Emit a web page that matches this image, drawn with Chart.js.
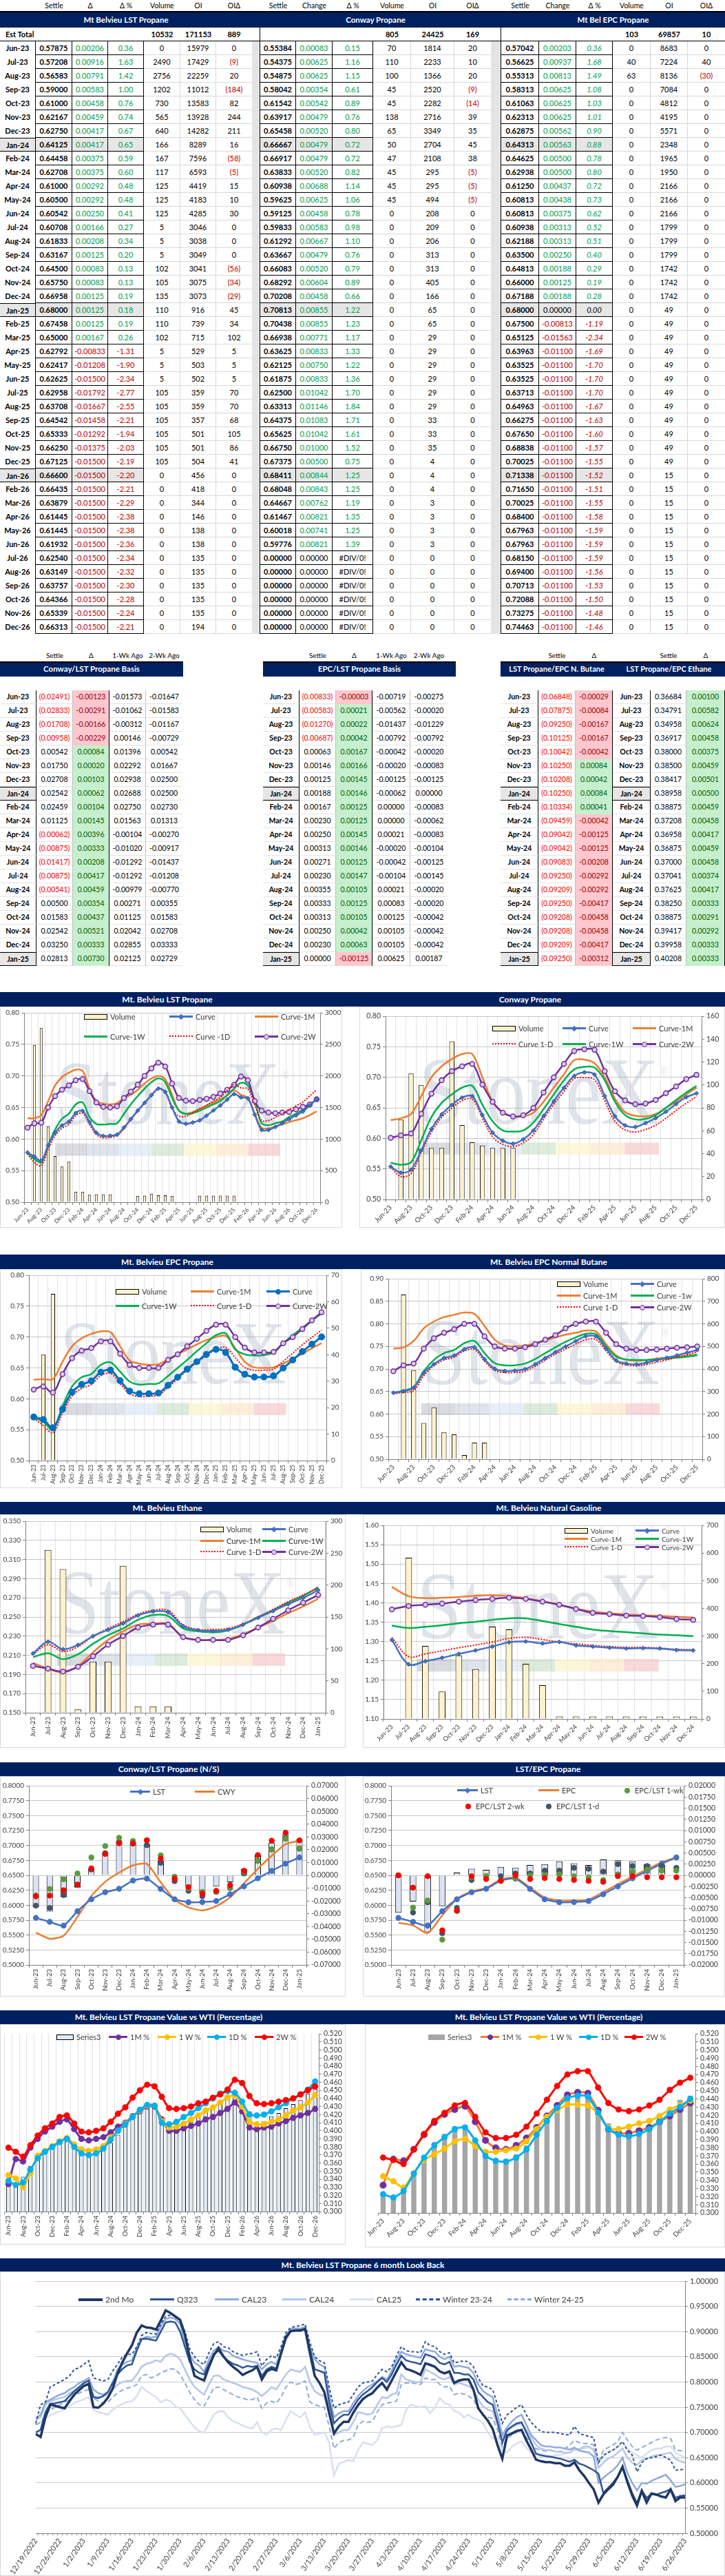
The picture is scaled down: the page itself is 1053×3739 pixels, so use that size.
<!DOCTYPE html>
<html>
<head>
<meta charset="utf-8">
<title>Propane curves</title>
<script src="https://cdn.jsdelivr.net/npm/chart.js@4.4.1/dist/chart.umd.min.js"></script>
<style>
html,body{margin:0;padding:0;background:#fff}
body{position:relative;width:1053px;height:3739px;overflow:hidden;font-family:Lato,'Liberation Sans',sans-serif;color:#000}
i{position:absolute;display:block;box-sizing:border-box}
</style>
</head>
<body>
<script>
// ---------- categories ----------
const months = ['Jun-23','Jul-23','Aug-23','Sep-23','Oct-23','Nov-23','Dec-23','Jan-24','Feb-24','Mar-24','Apr-24','May-24','Jun-24','Jul-24','Aug-24','Sep-24','Oct-24','Nov-24','Dec-24','Jan-25','Feb-25','Mar-25','Apr-25','May-25','Jun-25','Jul-25','Aug-25','Sep-25','Oct-25','Nov-25','Dec-25','Jan-26','Feb-26','Mar-26','Apr-26','May-26','Jun-26','Jul-26','Aug-26','Sep-26','Oct-26','Nov-26','Dec-26']
const m31 = months.slice(0, 31)
const m20 = months.slice(0, 20)
const m19 = months.slice(0, 19)

// ---------- settlement table ----------
const lstTotals = [10532, 171153, 889]
const cwyTotals = [805, 24425, 169]
const epcTotals = [103, 69857, 10]

const lstSettle = [0.57875,0.57208,0.56583,0.59000,0.61000,0.62167,0.62750,0.64125,0.64458,0.62708,0.61000,0.60500,0.60542,0.60708,0.61833,0.63167,0.64500,0.65750,0.66958,0.68000,0.67458,0.65000,0.62792,0.62417,0.62625,0.62958,0.63708,0.64542,0.65333,0.66250,0.67125,0.66600,0.66435,0.63879,0.61445,0.61445,0.61932,0.62540,0.63149,0.63757,0.64366,0.65339,0.66313]
const lstChg = [0.00206,0.00916,0.00791,0.00583,0.00458,0.00459,0.00417,0.00417,0.00375,0.00375,0.00292,0.00292,0.00250,0.00166,0.00208,0.00125,0.00083,0.00083,0.00125,0.00125,0.00125,0.00167,-0.00833,-0.01208,-0.01500,-0.01792,-0.01667,-0.01458,-0.01292,-0.01375,-0.01500,-0.01500,-0.01500,-0.01500,-0.01500,-0.01500,-0.01500,-0.01500,-0.01500,-0.01500,-0.01500,-0.01500,-0.01500]
const lstPct = [0.36,1.63,1.42,1.00,0.76,0.74,0.67,0.65,0.59,0.60,0.48,0.48,0.41,0.27,0.34,0.20,0.13,0.13,0.19,0.18,0.19,0.26,-1.31,-1.90,-2.34,-2.77,-2.55,-2.21,-1.94,-2.03,-2.19,-2.20,-2.21,-2.29,-2.38,-2.38,-2.36,-2.34,-2.32,-2.30,-2.28,-2.24,-2.21]
const lstVol = [0,2490,2756,1202,730,565,640,166,167,117,125,125,125,5,5,5,102,105,135,110,110,102,5,5,5,105,105,105,105,105,105,0,0,0,0,0,0,0,0,0,0,0,0]
const lstOI = [15979,17429,22259,11012,13583,13928,14282,8289,7596,6593,4419,4183,4285,3046,3038,3049,3041,3075,3073,916,739,715,529,503,502,359,359,357,501,501,504,456,418,344,146,138,138,135,135,135,135,135,194]
const lstOIChg = [0,-9,20,-184,82,244,211,16,-58,-5,15,10,30,0,0,0,-56,-34,-29,45,34,102,5,5,5,70,70,68,105,86,41,0,0,0,0,0,0,0,0,0,0,0,0]

const cwySettle = [0.55384,0.54375,0.54875,0.58042,0.61542,0.63917,0.65458,0.66667,0.66917,0.63833,0.60938,0.59625,0.59125,0.59833,0.61292,0.63667,0.66083,0.68292,0.70208,0.70813,0.70438,0.66938,0.63625,0.62125,0.61875,0.62500,0.63313,0.64375,0.65625,0.66750,0.67375,0.68411,0.68048,0.64667,0.61467,0.60018,0.59776,0,0,0,0,0,0]
const cwyChg = [0.00083,0.00625,0.00625,0.00354,0.00542,0.00479,0.00520,0.00479,0.00479,0.00520,0.00688,0.00625,0.00458,0.00583,0.00667,0.00479,0.00520,0.00604,0.00458,0.00855,0.00855,0.00771,0.00833,0.00750,0.00833,0.01042,0.01146,0.01083,0.01042,0.01000,0.00500,0.00844,0.00843,0.00762,0.00821,0.00741,0.00821,0,0,0,0,0,0]
const cwyPct = [0.15,1.16,1.15,0.61,0.89,0.76,0.80,0.72,0.72,0.82,1.14,1.06,0.78,0.98,1.10,0.76,0.79,0.89,0.66,1.22,1.23,1.17,1.33,1.22,1.36,1.70,1.84,1.71,1.61,1.52,0.75,1.25,1.25,1.19,1.35,1.25,1.39,'#DIV/0!','#DIV/0!','#DIV/0!','#DIV/0!','#DIV/0!','#DIV/0!']
const cwyVol = [70,110,100,45,45,138,65,50,47,45,45,45,0,0,0,0,0,0,0,0,0,0,0,0,0,0,0,0,0,0,0,0,0,0,0,0,0,0,0,0,0,0,0]
const cwyOI = [1814,2233,1366,2520,2282,2716,3349,2704,2108,295,295,494,208,209,206,313,313,405,166,65,65,29,29,29,29,29,29,33,33,35,4,4,4,3,3,3,3,0,0,0,0,0,0]
const cwyOIChg = [20,10,20,-9,-14,39,35,45,38,-5,-5,-5,0,0,0,0,0,0,0,0,0,0,0,0,0,0,0,0,0,0,0,0,0,0,0,0,0,0,0,0,0,0,0]

const epcSettle = [0.57042,0.56625,0.55313,0.58313,0.61063,0.62313,0.62875,0.64313,0.64625,0.62938,0.61250,0.60813,0.60813,0.60938,0.62188,0.63500,0.64813,0.66000,0.67188,0.68000,0.67500,0.65125,0.63963,0.63525,0.63525,0.63713,0.64963,0.66275,0.67650,0.68838,0.70025,0.71338,0.71650,0.70025,0.68400,0.67963,0.67963,0.68150,0.69400,0.70713,0.72088,0.73275,0.74463]
const epcChg = [0.00203,0.00937,0.00813,0.00625,0.00625,0.00625,0.00562,0.00563,0.00500,0.00500,0.00437,0.00438,0.00375,0.00313,0.00313,0.00250,0.00188,0.00125,0.00188,0.00000,-0.00813,-0.01563,-0.01100,-0.01100,-0.01100,-0.01100,-0.01100,-0.01100,-0.01100,-0.01100,-0.01100,-0.01100,-0.01100,-0.01100,-0.01100,-0.01100,-0.01100,-0.01100,-0.01100,-0.01100,-0.01100,-0.01100,-0.01100]
const epcPct = [0.36,1.68,1.49,1.08,1.03,1.01,0.90,0.88,0.78,0.80,0.72,0.73,0.62,0.52,0.51,0.40,0.29,0.19,0.28,0.00,-1.19,-2.34,-1.69,-1.70,-1.70,-1.70,-1.67,-1.63,-1.60,-1.57,-1.55,-1.52,-1.51,-1.55,-1.58,-1.59,-1.59,-1.59,-1.56,-1.53,-1.50,-1.48,-1.46]
const epcVol = [0,40,63,0,0,0,0,0,0,0,0,0,0,0,0,0,0,0,0,0,0,0,0,0,0,0,0,0,0,0,0,0,0,0,0,0,0,0,0,0,0,0,0]
const epcOI = [8683,7224,8136,7084,4812,4195,5571,2348,1965,1950,2166,2166,2166,1799,1799,1799,1742,1742,1742,49,49,49,49,49,49,49,49,49,49,49,49,15,15,15,15,15,15,15,15,15,15,15,15]
const epcOIChg = [0,40,-30,0,0,0,0,0,0,0,0,0,0,0,0,0,0,0,0,0,0,0,0,0,0,0,0,0,0,0,0,0,0,0,0,0,0,0,0,0,0,0,0]

// ---------- basis tables ----------
const cwyB = [-0.02491,-0.02833,-0.01708,-0.00958,0.00542,0.01750,0.02708,0.02542,0.02459,0.01125,-0.00062,-0.00875,-0.01417,-0.00875,-0.00541,0.00500,0.01583,0.02542,0.03250,0.02813]
const cwyBChg = [-0.00123,-0.00291,-0.00166,-0.00229,0.00084,0.00020,0.00103,0.00062,0.00104,0.00145,0.00396,0.00333,0.00208,0.00417,0.00459,0.00354,0.00437,0.00521,0.00333,0.00730]
const cwyB1w = [-0.01573,-0.01062,-0.00312,0.00146,0.01396,0.02292,0.02938,0.02688,0.02750,0.01563,-0.00104,-0.01020,-0.01292,-0.01292,-0.00979,0.00271,0.01125,0.02042,0.02855,0.02125]
const cwyB2w = [-0.01647,-0.01583,-0.01167,-0.00729,0.00542,0.01667,0.02500,0.02500,0.02730,0.01313,-0.00270,-0.00917,-0.01437,-0.01208,-0.00770,0.00355,0.01583,0.02708,0.03333,0.02729]
const cwyB1d = [-0.02368,-0.02542,-0.01542,-0.00729,0.00458,0.01730,0.02605,0.02480,0.02355,0.00980,-0.00458,-0.01208,-0.01625,-0.01292,-0.01000,0.00146,0.01146,0.02021,0.02917,0.02083]
const epcB = [-0.00833,-0.00583,-0.01270,-0.00687,0.00063,0.00146,0.00125,0.00188,0.00167,0.00230,0.00250,0.00313,0.00271,0.00230,0.00355,0.00333,0.00313,0.00250,0.00230,0.00000]
const epcBChg = [-0.00003,0.00021,0.00022,0.00042,0.00167,0.00166,0.00145,0.00146,0.00125,0.00125,0.00145,0.00146,0.00125,0.00147,0.00105,0.00125,0.00105,0.00042,0.00063,-0.00125]
const epcB1w = [-0.00719,-0.00562,-0.01437,-0.00792,-0.00042,-0.00020,-0.00125,-0.00062,0.00000,0.00000,0.00021,-0.00020,-0.00042,-0.00104,0.00021,0.00083,0.00125,0.00105,0.00105,0.00625]
const epcB2w = [-0.00275,-0.00020,-0.01229,-0.00792,-0.00020,-0.00083,-0.00125,0.00000,-0.00083,-0.00062,-0.00083,-0.00104,-0.00125,-0.00145,-0.00020,-0.00020,-0.00042,-0.00042,-0.00042,0.00187]
const butB = [-0.06848,-0.07875,-0.09250,-0.10125,-0.10042,-0.10250,-0.10208,-0.10250,-0.10334,-0.09459,-0.09042,-0.09042,-0.09083,-0.09250,-0.09209,-0.09250,-0.09208,-0.09208,-0.09209,-0.09250]
const butBChg = [-0.00029,-0.00084,-0.00167,-0.00167,-0.00042,0.00084,0.00042,0.00084,0.00041,-0.00042,-0.00125,-0.00125,-0.00208,-0.00292,-0.00292,-0.00417,-0.00458,-0.00458,-0.00417,-0.00312]
const ethB = [0.36684,0.34791,0.34958,0.36917,0.38000,0.38500,0.38417,0.38958,0.38875,0.37208,0.36958,0.36875,0.37000,0.37041,0.37625,0.38250,0.38875,0.39417,0.39958,0.40208]
const ethBChg = [0.00100,0.00582,0.00624,0.00458,0.00375,0.00459,0.00501,0.00500,0.00459,0.00458,0.00417,0.00459,0.00458,0.00374,0.00417,0.00333,0.00291,0.00292,0.00333,0.00333]

// ---------- curve charts ----------
const lst1D = [0.57669,0.56292,0.55792,0.58417,0.60542,0.61708,0.62333,0.63708,0.64083,0.62333,0.60708,0.60208,0.60292,0.60542,0.61625,0.63042,0.64417,0.65667,0.66833,0.67875,0.67333,0.64833,0.63625,0.63625,0.64125,0.64750,0.65375,0.66000,0.66625,0.67625,0.68625,0.68100,0.67935,0.65379,0.62945,0.62945,0.63432,0.64040,0.64649,0.65257,0.65866,0.66839,0.67813]
const lst1W = [0.578,0.568,0.563,0.590,0.615,0.632,0.640,0.655,0.658,0.635,0.624,0.623,0.624,0.625,0.640,0.655,0.668,0.680,0.690,0.696,0.690,0.665,0.645,0.640,0.641,0.645,0.650,0.655,0.660,0.670,0.680,0.689,0.685,0.660,0.625,0.622,0.625,0.628,0.635,0.640,0.647,0.655,0.663]
const lst2W = [0.618,0.625,0.626,0.650,0.668,0.678,0.685,0.693,0.695,0.676,0.658,0.651,0.650,0.652,0.665,0.675,0.686,0.700,0.712,0.721,0.715,0.688,0.665,0.661,0.660,0.662,0.664,0.667,0.672,0.678,0.686,0.699,0.693,0.660,0.645,0.642,0.641,0.642,0.643,0.647,0.651,0.655,0.663]
const lst1M = [0.633,0.633,0.638,0.660,0.685,0.698,0.705,0.710,0.708,0.680,0.660,0.656,0.655,0.657,0.665,0.670,0.678,0.688,0.696,0.700,0.695,0.670,0.645,0.640,0.643,0.648,0.653,0.658,0.663,0.669,0.677,0.670,0.665,0.640,0.618,0.617,0.620,0.623,0.627,0.630,0.633,0.638,0.644]

const cwyVolChart = [0,70,110,100,45,45,138,65,50,47,45,45,45,0,0,0,0,0,0,0,0,0,0,0,0,0,0,0,0,0,0]
const cwy1D = [0.55301,0.53750,0.54250,0.57688,0.61000,0.63438,0.64938,0.66188,0.66438,0.63313,0.60250,0.59000,0.58667,0.59250,0.60625,0.63188,0.65563,0.67688,0.69750,0.69958,0.69583,0.66167,0.62792,0.61375,0.61042,0.61458,0.62167,0.63292,0.64583,0.65750,0.66875]
const cwy1W = [0.560,0.557,0.561,0.597,0.635,0.658,0.672,0.683,0.686,0.655,0.628,0.613,0.611,0.613,0.626,0.648,0.672,0.695,0.713,0.717,0.716,0.695,0.660,0.638,0.631,0.632,0.638,0.650,0.663,0.675,0.686]
const cwy2W = [0.601,0.605,0.608,0.640,0.673,0.695,0.710,0.718,0.722,0.688,0.660,0.642,0.636,0.638,0.650,0.675,0.700,0.722,0.743,0.746,0.745,0.710,0.677,0.662,0.656,0.657,0.663,0.674,0.685,0.697,0.704]
const cwy1M = [0.630,0.633,0.640,0.669,0.700,0.718,0.730,0.738,0.738,0.700,0.660,0.643,0.636,0.636,0.642,0.660,0.683,0.705,0.728,0.729,0.723,0.700,0.665,0.643,0.637,0.636,0.640,0.650,0.660,0.672,0.683]

const epc1D = [0.56839,0.55688,0.54500,0.57688,0.60438,0.61688,0.62313,0.63750,0.64125,0.62438,0.60813,0.60375,0.60438,0.60625,0.61875,0.63250,0.64625,0.65875,0.67000,0.68000,0.68313,0.66688,0.65063,0.64625,0.64625,0.64813,0.66063,0.67375,0.68750,0.69938,0.71125]
const epc1W = [0.570,0.563,0.550,0.588,0.620,0.635,0.640,0.655,0.659,0.644,0.628,0.623,0.624,0.625,0.637,0.650,0.663,0.677,0.690,0.703,0.706,0.680,0.672,0.670,0.671,0.675,0.690,0.703,0.715,0.727,0.738]
const epc2W = [0.615,0.620,0.610,0.640,0.666,0.678,0.682,0.693,0.693,0.673,0.655,0.650,0.650,0.650,0.663,0.672,0.685,0.697,0.710,0.720,0.720,0.700,0.683,0.675,0.675,0.676,0.690,0.700,0.713,0.727,0.740]
const epc1M = [0.631,0.632,0.632,0.660,0.685,0.698,0.705,0.709,0.708,0.685,0.662,0.657,0.655,0.656,0.664,0.672,0.680,0.688,0.695,0.700,0.702,0.682,0.660,0.651,0.650,0.651,0.657,0.665,0.673,0.682,0.690]

const butCurve = [0.64723,0.65083,0.65833,0.69125,0.71042,0.72417,0.72958,0.74375,0.74792,0.72167,0.70042,0.69542,0.69625,0.69958,0.71042,0.72417,0.73708,0.74958,0.76167,0.77250,0.772,0.745,0.719,0.712,0.710,0.714,0.720,0.725,0.730,0.736,0.742]
const but1D = [0.645,0.648,0.652,0.685,0.707,0.720,0.726,0.740,0.743,0.717,0.697,0.692,0.692,0.695,0.706,0.720,0.733,0.744,0.755,0.765,0.765,0.740,0.716,0.709,0.707,0.710,0.715,0.720,0.726,0.731,0.738]
const but1W = [0.647,0.652,0.660,0.695,0.720,0.735,0.742,0.757,0.762,0.735,0.713,0.708,0.708,0.712,0.722,0.735,0.748,0.760,0.770,0.778,0.777,0.750,0.727,0.721,0.720,0.720,0.721,0.723,0.725,0.727,0.730]
const but2W = [0.695,0.708,0.712,0.745,0.768,0.780,0.788,0.800,0.800,0.772,0.750,0.745,0.745,0.748,0.755,0.765,0.775,0.790,0.800,0.805,0.805,0.780,0.755,0.745,0.742,0.742,0.743,0.745,0.747,0.748,0.750]
const but1M = [0.745,0.748,0.762,0.790,0.805,0.815,0.820,0.825,0.822,0.795,0.765,0.752,0.750,0.752,0.757,0.763,0.770,0.776,0.780,0.785,0.783,0.755,0.730,0.720,0.718,0.720,0.723,0.725,0.727,0.729,0.732]
const butVol = [0,730,395,160,230,120,110,18,73,73,0,0,0,0,0,0,0,0,0,0,0,0,0,0,0,0,0,0,0,0,0]

const ethCurve = [0.21191,0.22417,0.21625,0.22083,0.23000,0.23667,0.24333,0.25167,0.25583,0.25500,0.24042,0.23625,0.23542,0.23667,0.24208,0.24917,0.25625,0.26333,0.27000,0.27792]
const eth1D = [0.211,0.221,0.214,0.219,0.230,0.238,0.245,0.253,0.257,0.257,0.242,0.237,0.237,0.238,0.243,0.250,0.258,0.266,0.273,0.280]
const eth1W = [0.208,0.212,0.206,0.211,0.222,0.231,0.238,0.247,0.252,0.251,0.238,0.235,0.234,0.236,0.242,0.250,0.257,0.265,0.272,0.281]
const eth2W = [0.199,0.196,0.193,0.198,0.209,0.221,0.230,0.239,0.242,0.242,0.229,0.226,0.226,0.226,0.231,0.239,0.248,0.257,0.265,0.273]
const eth1M = [0.202,0.196,0.192,0.199,0.213,0.226,0.235,0.242,0.243,0.243,0.229,0.226,0.226,0.227,0.232,0.239,0.246,0.254,0.261,0.269]
const ethVol = [0,255,225,5,80,80,230,10,10,10,0,0,0,0,0,0,0,0,0,0]

const ngCurve = [1.304,1.241,1.249,1.258,1.268,1.277,1.287,1.298,1.300,1.295,1.299,1.290,1.287,1.284,1.282,1.283,1.282,1.278,1.277]
const ng1D = [1.310,1.261,1.268,1.276,1.284,1.291,1.299,1.308,1.311,1.305,1.299,1.294,1.290,1.287,1.285,1.285,1.283,1.280,1.279]
const ng1W = [1.341,1.335,1.338,1.342,1.347,1.351,1.356,1.360,1.360,1.353,1.345,1.338,1.331,1.327,1.324,1.321,1.318,1.316,1.314]
const ng2W = [1.383,1.392,1.395,1.398,1.403,1.407,1.410,1.413,1.410,1.403,1.395,1.384,1.374,1.371,1.367,1.366,1.363,1.358,1.356]
const ng1M = [1.441,1.417,1.412,1.413,1.415,1.418,1.420,1.417,1.412,1.404,1.395,1.385,1.377,1.373,1.370,1.368,1.366,1.364,1.362]
const ngVol = [0,583,264,99,230,180,334,324,199,122,9,9,9,9,9,9,9,9,9]

// LST/EPC dots as plotted (one slot to the right, leading zero)
const epcLst1dPlot = [0,-0.00830,-0.00604,-0.01292,-0.00729,-0.00104,-0.00020,-0.00020,0.00042,0.00042,0.00105,0.00105,0.00167,0.00146,0.00083,0.00250,0.00208,0.00208,0.00208,0.00167]
const epcLst1wPlot = [0,-0.00719,-0.00562,-0.01437,-0.00792,-0.00042,-0.00020,-0.00125,-0.00062,0.00000,0.00000,0.00021,-0.00020,-0.00042,-0.00104,0.00021,0.00083,0.00125,0.00105,0.00105]
const epcLst2wPlot = [0,-0.00275,-0.00020,-0.01229,-0.00792,-0.00020,-0.00083,-0.00125,0.00000,-0.00083,-0.00062,-0.00083,-0.00104,-0.00125,-0.00145,-0.00020,-0.00020,-0.00042,-0.00042,-0.00042]

// value vs WTI
const wtiLs3 = [0.339,0.336,0.343,0.356,0.368,0.376,0.381,0.389,0.392,0.383,0.372,0.371,0.372,0.376,0.385,0.395,0.405,0.414,0.424,0.430,0.430,0.416,0.405,0.405,0.408,0.411,0.417,0.423,0.430,0.435,0.440,0.442,0.426,0.424,0.410,0.412,0.418,0.422,0.428,0.433,0.438,0.446,0.452]
const wtiL1M = [0.334,0.365,0.362,0.379,0.390,0.399,0.405,0.411,0.414,0.402,0.390,0.388,0.390,0.392,0.398,0.405,0.410,0.418,0.424,0.430,0.430,0.414,0.400,0.400,0.403,0.406,0.409,0.414,0.417,0.422,0.427,0.435,0.424,0.404,0.402,0.404,0.405,0.409,0.412,0.416,0.419,0.422,0.427]
const wtiL1W = [0.345,0.341,0.330,0.348,0.369,0.375,0.381,0.387,0.391,0.383,0.377,0.375,0.377,0.381,0.392,0.400,0.409,0.417,0.425,0.431,0.431,0.412,0.404,0.405,0.409,0.414,0.419,0.425,0.429,0.435,0.441,0.444,0.430,0.411,0.408,0.408,0.411,0.414,0.419,0.425,0.429,0.435,0.444]
const wtiL1D = [0.338,0.333,0.336,0.352,0.366,0.374,0.380,0.386,0.390,0.380,0.372,0.370,0.372,0.378,0.389,0.400,0.408,0.417,0.426,0.432,0.431,0.410,0.408,0.411,0.417,0.422,0.428,0.434,0.440,0.446,0.449,0.447,0.436,0.420,0.419,0.420,0.424,0.429,0.434,0.440,0.445,0.451,0.461]
const wtiL2W = [0.379,0.374,0.368,0.382,0.394,0.403,0.409,0.417,0.419,0.409,0.399,0.398,0.400,0.403,0.411,0.421,0.429,0.441,0.450,0.457,0.455,0.442,0.428,0.427,0.428,0.430,0.434,0.436,0.441,0.445,0.451,0.463,0.459,0.443,0.434,0.433,0.434,0.436,0.438,0.440,0.445,0.450,0.455]
const wtiRs3 = [0.323,0.319,0.327,0.350,0.364,0.387,0.397,0.405,0.408,0.390,0.372,0.367,0.366,0.372,0.383,0.400,0.418,0.430,0.446,0.449,0.450,0.428,0.410,0.400,0.399,0.402,0.408,0.417,0.429,0.439,0.444]
const wtiR1M = [0.334,0.366,0.364,0.378,0.396,0.411,0.421,0.427,0.431,0.412,0.389,0.380,0.378,0.383,0.392,0.405,0.419,0.432,0.445,0.448,0.447,0.426,0.403,0.398,0.398,0.401,0.405,0.412,0.419,0.427,0.435]
const wtiR1W = [0.345,0.339,0.331,0.349,0.365,0.372,0.379,0.388,0.391,0.382,0.375,0.375,0.377,0.379,0.388,0.403,0.418,0.426,0.433,0.433,0.432,0.422,0.404,0.403,0.406,0.410,0.413,0.419,0.427,0.432,0.438]
const wtiR1D = [0.323,0.319,0.327,0.348,0.368,0.383,0.393,0.403,0.405,0.389,0.370,0.364,0.363,0.368,0.378,0.396,0.413,0.429,0.441,0.444,0.443,0.423,0.403,0.396,0.394,0.397,0.403,0.412,0.422,0.430,0.440]
const wtiR2W = [0.368,0.365,0.360,0.378,0.397,0.413,0.423,0.432,0.435,0.418,0.399,0.392,0.392,0.396,0.406,0.422,0.439,0.456,0.470,0.474,0.474,0.454,0.435,0.427,0.425,0.427,0.432,0.439,0.451,0.460,0.466]

// 6 month look back, business days 12/19/2022 - 6/26/2023
const lookDates = []
for (let d = new Date(2022, 11, 19); lookDates.length < 136; d.setDate(d.getDate() + 1)) {
  if (d.getDay() % 6) lookDates.push((d.getMonth() + 1) + '/' + d.getDate() + '/' + d.getFullYear())
}
const lb2ndMo = [
.697,.691,.730,.755,.753, .750,.748,.762,.775,.784, .792,.796,.750,.749,.757, .769,.787,.817,.839,.857,
.873,.898,.912,.908,.907, .904,.922,.942,.937,.930, .923,.894,.848,.812,.807, .803,.830,.853,.867,.851,
.839,.830,.823,.814,.819, .823,.830,.805,.821,.826, .823,.857,.889,.901,.902, .902,.905,.857,.812,.798,
.780,.739,.698,.712,.721, .721,.739,.754,.766,.773, .778,.789,.798,.785,.803, .821,.839,.826,.823,.819,
.814,.837,.834,.830,.821, .817,.821,.798,.803,.805, .805,.785,.748,.735,.723, .707,.675,.648,.694,.698,
.703,.705,.684,.666,.646, .643,.641,.641,.639,.639, .634,.634,.641,.625,.614, .600,.587,.561,.577,.587,
.596,.612,.632,.602,.575, .555,.584,.561,.579,.577, .573,.571,.587,.564,.571, .571]
const lbQ323 = [
.700,.705,.740,.757,.758, .760,.762,.772,.782,.790, .798,.803,.770,.768,.772, .780,.798,.815,.826,.833,
.835,.862,.885,.886,.884, .882,.900,.918,.920,.918, .900,.870,.840,.825,.818, .815,.835,.855,.862,.850,
.842,.836,.833,.828,.832, .830,.832,.812,.825,.830, .827,.855,.885,.900,.903, .903,.905,.865,.825,.822,
.818,.760,.718,.728,.735, .735,.750,.765,.775,.782, .790,.800,.808,.800,.815, .835,.852,.843,.840,.838,
.835,.855,.852,.848,.838, .835,.840,.818,.818,.815, .815,.805,.780,.770,.760, .755,.720,.680,.705,.712,
.718,.720,.700,.680,.658, .655,.653,.652,.650,.648, .645,.642,.646,.638,.635, .630,.625,.618,.580,.590,
.600,.612,.630,.605,.580, .560,.585,.570,.578,.576, .580,.583,.588,.570,.574, .575]
const lbCal23 = [
.728,.735,.760,.765,.770, .775,.778,.785,.790,.798, .802,.808,.785,.778,.775, .780,.800,.825,.835,.840,
.843,.868,.885,.890,.888, .890,.910,.925,.928,.925, .915,.880,.855,.838,.832, .820,.845,.862,.870,.862,
.860,.852,.848,.845,.842, .840,.838,.825,.835,.840, .835,.862,.892,.905,.906, .906,.910,.870,.845,.835,
.830,.775,.730,.738,.742, .742,.758,.772,.782,.790, .795,.802,.810,.805,.822, .845,.860,.855,.852,.850,
.848,.865,.862,.860,.850, .845,.850,.830,.832,.830, .828,.818,.795,.782,.775, .770,.735,.695,.710,.722,
.730,.735,.715,.695,.685, .675,.672,.672,.670,.670, .668,.666,.670,.664,.662, .660,.652,.600,.610,.618,
.625,.635,.650,.620,.600, .585,.600,.598,.604,.608, .612,.616,.605,.592,.594, .597]
const lbCal24 = [
.725,.730,.755,.762,.765, .768,.770,.778,.783,.790, .795,.798,.772,.770,.772, .775,.785,.795,.800,.802,
.803,.815,.830,.836,.838, .843,.840,.852,.856,.853, .845,.825,.805,.790,.782, .775,.795,.812,.813,.805,
.802,.798,.795,.790,.788, .785,.780,.772,.780,.790, .785,.800,.815,.825,.822, .820,.830,.800,.782,.775,
.772,.735,.695,.700,.705, .705,.720,.740,.738,.735, .738,.755,.770,.768,.775, .778,.815,.805,.802,.800,
.800,.825,.820,.815,.808, .805,.810,.795,.798,.795, .792,.785,.765,.752,.745, .742,.715,.690,.702,.710,
.715,.718,.705,.690,.675, .668,.665,.665,.662,.662, .660,.660,.668,.666,.672, .672,.665,.630,.640,.648,
.652,.660,.668,.650,.640, .635,.645,.648,.652,.655, .655,.658,.660,.648,.643, .640]
const lbCal25 = [
.715,.720,.728,.734,.738, .742,.746,.752,.758,.762, .766,.770,.745,.740,.738, .735,.745,.752,.756,.760,
.762,.772,.790,.782,.776, .770,.760,.765,.762,.752, .748,.735,.722,.710,.702, .700,.718,.735,.742,.742,
.730,.722,.718,.714,.710, .708,.720,.700,.695,.705, .708,.705,.725,.742,.735, .730,.740,.710,.695,.698,
.700,.680,.615,.637,.642, .645,.643,.665,.680,.678, .675,.685,.708,.712,.710, .712,.715,.745,.755,.752,
.750,.752,.738,.750,.768, .758,.755,.742,.740,.730, .735,.728,.725,.718,.700, .688,.690,.665,.660,.672,
.678,.682,.670,.660,.656, .652,.650,.652,.655,.655, .658,.660,.665,.668,.668, .670,.668,.640,.652,.660,
.665,.670,.680,.668,.660, .655,.650,.658,.665,.668, .668,.672,.672,.660,.655, .650]
const lbW2324 = [
.718,.755,.760,.790,.795, .800,.805,.812,.825,.828, .835,.842,.808,.805,.802, .805,.822,.835,.850,.855,
.855,.870,.892,.898,.896, .895,.915,.930,.933,.930, .925,.900,.865,.850,.840, .835,.858,.876,.880,.870,
.868,.860,.856,.853,.855, .857,.860,.832,.845,.852, .848,.870,.898,.908,.910, .912,.915,.878,.850,.842,
.838,.790,.748,.755,.758, .760,.775,.790,.798,.800, .802,.815,.825,.820,.830, .852,.870,.862,.860,.860,
.858,.880,.872,.870,.860, .855,.858,.838,.840,.842, .840,.830,.808,.792,.790, .785,.755,.718,.735,.742,
.750,.755,.735,.720,.710, .702,.700,.700,.700,.698, .696,.695,.712,.698,.695, .692,.690,.640,.655,.660,
.665,.672,.682,.665,.655, .622,.640,.648,.650,.652, .655,.650,.645,.625,.626, .627]
const lbW2425 = [
.715,.720,.735,.745,.750, .755,.760,.765,.772,.778, .782,.785,.768,.762,.758, .760,.770,.778,.784,.788,
.790,.795,.812,.815,.808, .812,.818,.822,.826,.825, .815,.798,.780,.765,.755, .752,.770,.788,.790,.785,
.780,.775,.770,.768,.765, .765,.770,.748,.758,.762, .758,.770,.790,.800,.795, .797,.802,.760,.755,.752,
.750,.712,.668,.680,.684, .685,.690,.715,.722,.720, .722,.740,.755,.758,.760, .762,.795,.798,.798,.797,
.795,.808,.805,.805,.795, .790,.792,.775,.778,.776, .772,.765,.748,.735,.730, .728,.705,.672,.688,.695,
.700,.705,.690,.678,.668, .665,.663,.664,.663,.662, .668,.675,.684,.680,.678, .678,.675,.640,.665,.670,
.675,.682,.700,.685,.672, .665,.670,.675,.680,.685, .688,.690,.688,.665,.664, .662]

// ---------- page helpers ----------
Chart.defaults.font.family = "Lato, 'Liberation Sans', sans-serif"
Chart.defaults.font.size = 10
Chart.defaults.color = '#404040'

function div(x, y, w, h, css, html) {
  const d = document.createElement('div')
  d.style.cssText = 'position:absolute;box-sizing:border-box;left:' + x + 'px;top:' + y + 'px;width:' + w + 'px;height:' + h + 'px;' + (css || '')
  if (html !== undefined) d.innerHTML = html
  document.body.appendChild(d)
  return d
}
function cell(x, y, w, h, txt, css) {
  return div(x, y, w, h, 'font-size:11px;line-height:' + (h - 1) + 'px;text-align:center;white-space:nowrap;overflow:hidden;' + (css || ''), txt)
}
const GRN = '#00a04a', RED = '#c00000'
const sgn = v => v > 0 ? GRN : v < 0 ? RED : '#000'

// ---------- settlement table ----------
const cL = [52,105,157,209,262,314,366], cC = [378,430,483,542,597,660,713], cE = [728,783,837,890,945,999,1053]
function hdr(cols, names) { names.forEach((n, k) => cell(cols[k], 0, cols[k + 1] - cols[k], 17, n, 'font-size:10.5px')) }
hdr(cL, ['Settle','Δ','Δ %','Volume','OI','OIΔ'])
hdr(cC, ['Settle','Change','Δ %','Volume','OI','OIΔ'])
hdr(cE, ['Settle','Change','Δ %','Volume','OI','OIΔ'])
div(0, 16, 1053, 2, 'background:#000')
div(0, 18, 1053, 22, 'background:#002060')
cell(0, 18, 366, 22, 'Mt Belvieu LST Propane', 'color:#fff;font-weight:bold;font-size:11.5px')
cell(378, 18, 335, 22, 'Conway Propane', 'color:#fff;font-weight:bold;font-size:11.5px')
cell(728, 18, 325, 22, 'Mt Bel EPC Propane', 'color:#fff;font-weight:bold;font-size:11.5px')
cell(0, 40, 100, 20, 'Est Total', 'text-align:left;padding-left:8px;font-weight:bold')
function est(cols, t) { t.forEach((v, k) => cell(cols[3 + k], 40, cols[4 + k] - cols[3 + k], 20, String(v), 'font-weight:bold')) }
est(cL, lstTotals); est(cC, cwyTotals); est(cE, epcTotals)
div(0, 59, 1053, 1, 'background:#000')
div(377, 40, 1, 20, 'background:#000'); div(727, 40, 1, 20, 'background:#000')
div(366, 60, 12, 860, 'background:#e4e4e4'); div(713, 60, 15, 860, 'background:#e4e4e4')

function block(cols, S, C, P, V, O, D, ital) {
  months.forEach((m, i) => {
    const y = 60 + i * 20, bg = m.startsWith('Jan') ? 'background:#e7e6e6;' : ''
    const bk = 'border-right:1px solid #000;border-bottom:1px solid #000;' + bg
    const gr = 'border-bottom:1px solid #d9d9d9;'
    cell(cols[0], y, cols[1] - cols[0], 20, S[i].toFixed(5), bk + 'font-weight:bold')
    cell(cols[1], y, cols[2] - cols[1], 20, C[i].toFixed(5), bk + 'color:' + sgn(C[i]))
    const p = P[i]
    cell(cols[2], y, cols[3] - cols[2], 20, typeof p === 'string' ? p : p.toFixed(2), bk + 'color:' + (typeof p === 'string' ? '#000' : sgn(p)) + (ital ? ';font-style:italic' : ''))
    cell(cols[3], y, cols[4] - cols[3], 20, String(V[i]), gr + 'border-right:1px solid #d9d9d9')
    cell(cols[4], y, cols[5] - cols[4], 20, String(O[i]), gr + 'border-right:1px solid #d9d9d9')
    cell(cols[5], y, cols[6] - cols[5], 20, D[i] < 0 ? '(' + (-D[i]) + ')' : String(D[i]), gr + (D[i] < 0 ? 'color:' + RED : ''))
  })
}
months.forEach((m, i) => {
  const jan = m.startsWith('Jan')
  cell(0, 60 + i * 20, 52, 20, m, 'font-weight:bold;border-right:1px solid #000;' + (jan ? 'background:#e7e6e6;border-top:1px solid #000;border-bottom:1px solid #000' : ''))
})
block(cL, lstSettle, lstChg, lstPct, lstVol, lstOI, lstOIChg, false)
block(cC, cwySettle, cwyChg, cwyPct, cwyVol, cwyOI, cwyOIChg, false)
block(cE, epcSettle, epcChg, epcPct, epcVol, epcOI, epcOIChg, true)
div(377, 60, 1, 860, 'background:#000'); div(727, 60, 1, 860, 'background:#000')

// ---------- basis tables ----------
const bS = v => v < 0 ? '(' + (-v).toFixed(5) + ')' : v.toFixed(5)
function basis(cols, hdrs, title, cols2) {
  hdrs.forEach((h, k) => cell(cols[1 + k], 944, cols[2 + k] - cols[1 + k], 16, h, 'font-size:10px'))
}
function bTable(cols, S, C, W1, W2) {
  m20.forEach((m, i) => {
    const y = 1002 + i * 20, jan = m.startsWith('Jan')
    const line = 'border-bottom:1px solid #e3e3e3;'
    cell(cols[0], y, cols[1] - cols[0], 20, m, 'font-size:10.5px;font-weight:bold;border-right:1px solid #000;' + (jan ? 'background:#e7e6e6;border-top:1px solid #000;border-bottom:1px solid #000' : line))
    cell(cols[1], y, cols[2] - cols[1], 20, bS(S[i]), 'font-size:10.5px;border-right:1px solid #bfbfbf;' + line + (S[i] < 0 ? 'color:#ff0000' : ''))
    const neg = C[i] < 0
    cell(cols[2], y, cols[3] - cols[2], 20, C[i].toFixed(5), 'font-size:10.5px;border-right:1px solid #000;' + (neg ? 'background:#ffc7ce;color:#9c0006' : 'background:#c6efce;color:#006100'))
    if (W1) {
      cell(cols[3], y, cols[4] - cols[3], 20, W1[i].toFixed(5), 'font-size:10.5px;border-right:1px solid #bfbfbf;' + line)
      cell(cols[4], y, cols[5] - cols[4], 20, W2[i].toFixed(5), 'font-size:10.5px;' + line)
    }
  })
}
const bC = [0,53,106,159,212,265], bE = [382,435,488,541,596,650], bB = [727,782,836,890], bT = [890,945,997,1053]
basis(bC, ['Settle','Δ','1-Wk Ago','2-Wk Ago'])
basis(bE, ['Settle','Δ','1-Wk Ago','2-Wk Ago'])
basis(bB, ['Settle','Δ'])
basis(bT, ['Settle','Δ'])
div(0, 960, 266, 22, 'background:#002060;border-top:2px solid #000'); cell(0, 960, 266, 22, 'Conway/LST Propane Basis', 'color:#fff;font-weight:bold;font-size:11.5px')
div(382, 960, 280, 22, 'background:#002060;border-top:2px solid #000'); cell(382, 960, 280, 22, 'EPC/LST Propane Basis', 'color:#fff;font-weight:bold;font-size:11.5px')
div(727, 960, 326, 22, 'background:#002060;border-top:2px solid #000')
cell(727, 960, 163, 22, 'LST Propane/EPC N. Butane', 'color:#fff;font-weight:bold;font-size:11px')
cell(890, 960, 163, 22, 'LST Propane/EPC Ethane', 'color:#fff;font-weight:bold;font-size:11px')
bTable(bC, cwyB, cwyBChg, cwyB1w, cwyB2w)
bTable(bE, epcB, epcBChg, epcB1w, epcB2w)
bTable(bB, butB, butBChg)
bTable(bT, ethB, ethBChg)

// ---------- chart helpers ----------
function titleBar(y, h, items) {
  div(0, y, 1053, h, 'background:#002060')
  items.forEach(([cx, t]) => cell(cx - 260, y, 520, h, t, 'color:#fff;font-weight:bold;font-size:12px;line-height:' + h + 'px'))
}
function panel(x, y, w, h) {
  const p = div(x, y, w, h, 'border:1px solid #d9d9d9;background:#fff')
  const c = document.createElement('canvas')
  c.width = w; c.height = h
  c.style.cssText = 'position:absolute;left:-1px;top:-1px'
  p.appendChild(c)
  return c
}
function yax(pos, min, max, step, dec, w, gridOn, fs) {
  return {
    position: pos, min: min, max: max,
    afterFit: s => { s.width = w },
    ticks: { stepSize: step, autoSkip: false, padding: 3, font: { size: fs || 10 }, callback: v => Number(v).toFixed(dec) },
    grid: { drawOnChartArea: !!gridOn, color: '#c8c8c8', tickColor: '#808080', tickLength: 4 },
    border: { color: '#808080' }
  }
}
function xax(labels, h, rot, every, fs, gridOn) {
  return {
    afterFit: s => { s.height = h },
    ticks: { autoSkip: false, maxRotation: rot, minRotation: rot, padding: 2, font: { size: fs }, callback: (v, i) => i % every === 0 ? labels[i] : '' },
    grid: { drawOnChartArea: !!gridOn, color: '#e3e3e3', tickColor: '#808080', tickLength: 4 },
    border: { color: '#808080' }
  }
}
const wmBand = ['rgba(170,176,188,0.45)','rgba(185,196,212,0.45)','rgba(214,228,244,0.6)','rgba(196,222,196,0.6)','rgba(252,244,206,0.75)','rgba(252,232,204,0.75)','rgba(244,204,206,0.75)']
const wmPlugin = {
  id: 'wm',
  beforeDatasetsDraw(chart) {
    const a = chart.chartArea, c = chart.ctx, w = a.right - a.left, h = a.bottom - a.top
    const bx = a.left + w * 0.105, tw = w * 0.76
    c.save()
    wmBand.forEach((col, k) => { c.fillStyle = col; c.fillRect(bx + k * tw / 7, a.top + h * 0.69, tw / 7, h * 0.065) })
    c.font = '100px "Liberation Serif", serif'
    const s = 100 * tw / c.measureText('StoneX').width
    c.font = s + 'px "Liberation Serif", serif'
    c.fillStyle = 'rgba(140,154,178,0.28)'
    c.translate(bx, a.top + h * 0.585)
    c.scale(1, 1.2)
    c.fillText('StoneX', 0, 0)
    c.font = (s * 0.13) + 'px "Liberation Serif", serif'
    c.fillText('®', tw + 2, -s * 0.5)
    c.restore()
  }
}
function chart(cv, labels, datasets, scales, top, left, wm) {
  return new Chart(cv, {
    type: 'bar',
    data: { labels: labels, datasets: datasets },
    options: {
      responsive: false, animation: false, events: [],
      layout: { padding: { top: top, left: left || 0, right: 0, bottom: 0 } },
      scales: scales,
      plugins: { legend: { display: false }, tooltip: { enabled: false } }
    },
    plugins: wm ? [wmPlugin] : []
  })
}
function ln(label, data, color, ext) {
  return Object.assign({ type: 'line', label: label, data: data, borderColor: color, backgroundColor: color, borderWidth: 2.5, pointRadius: 0, tension: 0.35, fill: false, yAxisID: 'y', order: 0 }, ext || {})
}
function vol(data, pct) {
  return { type: 'bar', label: 'Volume', data: data, backgroundColor: '#fff2cc', borderColor: '#000', borderWidth: 1, barPercentage: pct, categoryPercentage: 1, yAxisID: 'y1', order: 1 }
}
const mk2W = { pointRadius: 3.5, pointBackgroundColor: '#dcc9ea', pointBorderColor: '#7030a0', pointBorderWidth: 1.5 }
const mkCurve = { pointRadius: 3, pointStyle: 'rectRot', pointBackgroundColor: '#4472c4', pointBorderColor: '#2f5597', pointBorderWidth: 1 }
const dotted = { borderDash: [2, 2], borderWidth: 2 }
const dots = (label, data, color) => ({ type: 'line', label: label, data: data, showLine: false, pointRadius: 3.8, pointBackgroundColor: color, pointBorderColor: color, borderColor: color, yAxisID: 'y1', order: 0 })

function leg(x, y, kind, col, label, o) {
  o = o || {}
  const sw = o.sw || 34, fs = o.fs || 11, mid = 9
  let h = ''
  if (kind === 'box') h = '<i style="left:0;top:' + (mid - 4) + 'px;width:' + sw + 'px;height:8px;background:' + col + ';border:1px solid #000"></i>'
  else if (kind === 'fill') h = '<i style="left:0;top:' + (mid - 4) + 'px;width:' + sw + 'px;height:8px;background:' + col + '"></i>'
  else if (kind === 'dot') h = '<i style="left:' + (sw / 2 - 4) + 'px;top:' + (mid - 4) + 'px;width:8px;height:8px;border-radius:50%;background:' + col + '"></i>'
  else {
    const lw = o.lw || 3
    const st = kind === 'dotted' ? 'height:2px;border-top:2px dotted ' + col : kind === 'dashed' ? 'height:' + lw + 'px;border-top:' + lw + 'px dashed ' + col : 'height:' + lw + 'px;background:' + col
    h = '<i style="left:0;top:' + (mid - Math.round(lw / 2)) + 'px;width:' + sw + 'px;' + st + '"></i>'
    if (o.mk === 'd') h += '<i style="left:' + (sw / 2 - 3) + 'px;top:' + (mid - 3) + 'px;width:6px;height:6px;transform:rotate(45deg);background:' + (o.mf || col) + '"></i>'
    else if (o.mk) h += '<i style="left:' + (sw / 2 - 4) + 'px;top:' + (mid - 4) + 'px;width:8px;height:8px;border-radius:50%;background:' + (o.mf || col) + ';border:1.5px solid ' + (o.mb || col) + '"></i>'
  }
  div(x, y - 9, sw + 160, 18, '', h + '<span style="position:absolute;left:' + (sw + 4) + 'px;top:0;line-height:18px;font-size:' + fs + 'px;color:#404040;white-space:nowrap">' + label + '</span>')
}
function curveLegend(cols, rows, order, fs) {
  const spec = {
    'Volume': ['box', '#fff2cc', {}],
    'Curve': ['line', '#4472c4', { mk: 'd' }],
    'CurveE': ['line', '#0070c0', { mk: 'c' }],
    'Curve-1M': ['line', '#ed7d31', {}],
    'Curve-1W': ['line', '#00b050', {}],
    'Curve -1w': ['line', '#00b050', {}],
    'Curve -1D': ['dotted', '#ff0000', {}],
    'Curve 1-D': ['dotted', '#ff0000', {}],
    'Curve-2W': ['line', '#7030a0', { mk: 'c', mf: '#dcc9ea', mb: '#7030a0' }]
  }
  order.forEach((name, k) => {
    const s = spec[name]
    leg(cols[k % cols.length], rows[Math.floor(k / cols.length)], s[0], s[1], name === 'CurveE' ? 'Curve' : name, Object.assign({ fs: fs }, s[2]))
  })
}

// ---------- row 1 ----------
titleBar(1440, 21, [[243, 'Mt. Belvieu LST Propane'], [770, 'Conway Propane']])
chart(panel(0, 1461, 497, 321), months, [
  ln('Curve', lstSettle, '#4472c4', mkCurve),
  ln('Curve -1D', lst1D, '#ff0000', dotted),
  ln('Curve-2W', lst2W, '#7030a0', mk2W),
  ln('Curve-1W', lst1W, '#00b050'),
  ln('Curve-1M', lst1M, '#ed7d31'),
  vol(lstVol, 0.45)
], { x: xax(months, 37, 45, 2, 8.5, true), y: yax('left', 0.5, 0.8, 0.05, 2, 35, true), y1: yax('right', 0, 3000, 500, 0, 32, false) }, 6, 0, true)
chart(panel(522, 1461, 531, 321), m31, [
  ln('Curve', cwySettle.slice(0, 31), '#4472c4', mkCurve),
  ln('Curve 1-D', cwy1D, '#ff0000', dotted),
  ln('Curve-2W', cwy2W, '#7030a0', mk2W),
  ln('Curve-1W', cwy1W, '#00b050'),
  ln('Curve-1M', cwy1M, '#ed7d31'),
  vol(cwyVolChart, 0.5)
], { x: xax(m31, 41, 45, 2, 10, true), y: yax('left', 0.5, 0.8, 0.05, 2, 38, true, 10.5), y1: yax('right', 0, 160, 20, 0, 34, false, 10.5) }, 14, 0, true)

// ---------- row 2 ----------
titleBar(1821, 21, [[243, 'Mt. Belvieu EPC Propane'], [797, 'Mt. Belvieu EPC Normal Butane']])
chart(panel(0, 1842, 497, 318), m31, [
  ln('Curve', epcSettle.slice(0, 31), '#0070c0', { borderWidth: 3, pointRadius: 3.5, pointBackgroundColor: '#0070c0' }),
  ln('Curve 1-D', epc1D, '#ff0000', dotted),
  ln('Curve-2W', epc2W, '#7030a0', mk2W),
  ln('Curve-1W', epc1W, '#00b050'),
  ln('Curve-1M', epc1M, '#ed7d31'),
  vol(epcVol.slice(0, 31), 0.45)
], { x: xax(m31, 40, 90, 1, 8.5, true), y: yax('left', 0.5, 0.8, 0.05, 2, 42, true), y1: yax('right', 0, 70, 10, 0, 23, false) }, 6, 0, true)
chart(panel(524, 1842, 529, 318), m31, [
  ln('Curve', butCurve, '#4472c4', mkCurve),
  ln('Curve 1-D', but1D, '#ff0000', dotted),
  ln('Curve-2W', but2W, '#7030a0', mk2W),
  ln('Curve -1w', but1W, '#00b050'),
  ln('Curve-1M', but1M, '#ed7d31'),
  vol(butVol, 0.5)
], { x: xax(m31, 42, 45, 2, 10, true), y: yax('left', 0.5, 0.9, 0.05, 2, 40, true), y1: yax('right', 0, 800, 100, 0, 33, false) }, 14, 0, true)

// ---------- row 3 ----------
titleBar(2180, 18, [[243, 'Mt. Belvieu Ethane'], [797, 'Mt. Belvieu Natural Gasoline']])
chart(panel(0, 2198, 502, 339), m20, [
  ln('Curve', ethCurve, '#4472c4', mkCurve),
  ln('Curve 1-D', eth1D, '#ff0000', dotted),
  ln('Curve-2W', eth2W, '#7030a0', mk2W),
  ln('Curve-1W', eth1W, '#00b050'),
  ln('Curve-1M', eth1M, '#ed7d31'),
  vol(ethVol, 0.45)
], { x: xax(m20, 51, 90, 1, 9.5, true), y: yax('left', 0.15, 0.35, 0.02, 3, 37, true), y1: yax('right', 0, 300, 50, 0, 29, false) }, 10, 0, true)
chart(panel(527, 2198, 526, 339), m19, [
  ln('Curve', ngCurve, '#4472c4', mkCurve),
  ln('Curve 1-D', ng1D, '#ff0000', dotted),
  ln('Curve-2W', ng2W, '#7030a0', mk2W),
  ln('Curve-1W', ng1W, '#00b050'),
  ln('Curve-1M', ng1M, '#ed7d31'),
  vol(ngVol, 0.4)
], { x: xax(m19, 42, 45, 1, 9.5, true), y: yax('left', 1.1, 1.6, 0.05, 2, 30, true), y1: yax('right', 0, 700, 100, 0, 34, false) }, 16, 0, true)

// ---------- row 4 ----------
titleBar(2558, 20, [[245, 'Conway/LST Propane (N/S)'], [796, 'LST/EPC Propane']])
const basisBar = (label, data) => ({ type: 'bar', label: label, data: data, backgroundColor: '#dae3f3', borderColor: '#000', borderWidth: 1, barPercentage: 0.45, categoryPercentage: 1, yAxisID: 'y1', order: 1 })
chart(panel(0, 2578, 502, 320), m20, [
  dots('2-wk', cwyB2w, '#ff0000'),
  dots('1-wk', cwyB1w, '#5b9b3a'),
  dots('1-d', cwyB1d, '#44546a'),
  ln('LST', lstSettle.slice(0, 20), '#4472c4', { tension: 0.2, pointRadius: 3, pointBackgroundColor: '#4472c4' }),
  ln('CWY', cwySettle.slice(0, 20), '#ed7d31', { tension: 0.2 }),
  basisBar('Conway/LST', cwyB)
], { x: xax(m20, 46, 90, 1, 9.5, false), y: yax('left', 0.5, 0.8, 0.025, 4, 42, true), y1: yax('right', -0.07, 0.07, 0.01, 5, 57, false, 10.5) }, 14, 0, false)
chart(panel(527, 2578, 526, 320), m20, [
  dots('EPC/LST 2-wk', epcLst2wPlot, '#ff0000'),
  dots('EPC/LST 1-wk', epcLst1wPlot, '#5b9b3a'),
  dots('EPC/LST 1-d', epcLst1dPlot, '#44546a'),
  ln('LST', lstSettle.slice(0, 20), '#4472c4', { tension: 0.2, pointRadius: 3, pointBackgroundColor: '#4472c4' }),
  ln('EPC', epcSettle.slice(0, 20), '#ed7d31', { tension: 0.2 }),
  basisBar('EPC/LST', epcB)
], { x: xax(m20, 46, 90, 1, 9.5, false), y: yax('left', 0.5, 0.8, 0.025, 4, 41, true), y1: yax('right', -0.02, 0.02, 0.0025, 5, 60, false, 10.5) }, 14, 0, false)

// ---------- row 5 ----------
titleBar(2918, 20, [[245, 'Mt. Belvieu LST Propane Value vs WTI (Percentage)'], [797, 'Mt. Belvieu LST Propane Value vs WTI (Percentage)']])
const wl = (label, data, color, ext) => ln(label, data, color, Object.assign({ borderWidth: 3, tension: 0.2, pointRadius: 3, pointBackgroundColor: color }, ext || {}))
chart(panel(0, 2938, 502, 320), months, [
  wl('2W %', wtiL2W, '#ff0000'),
  wl('1D %', wtiL1D, '#00b0f0'),
  wl('1 W %', wtiL1W, '#ffc000'),
  wl('1M %', wtiL1M, '#7030a0'),
  { type: 'bar', label: 'Series3', data: wtiLs3, backgroundColor: '#deebf7', borderColor: '#000', borderWidth: 1, barPercentage: 0.6, categoryPercentage: 1, yAxisID: 'y', order: 1 }
], { x: xax(months, 48, 90, 2, 9.5, true), y: yax('right', 0.3, 0.52, 0.01, 3, 39, false, 10.5) }, 14, 7, false)
chart(panel(530, 2938, 523, 324), m31, [
  wl('2W %', wtiR2W, '#ff0000'),
  wl('1D %', wtiR1D, '#00b0f0'),
  wl('1 W %', wtiR1W, '#ffc000'),
  wl('1M %', wtiR1M, '#ed7d31', { pointBackgroundColor: '#7030a0', pointBorderColor: '#7030a0', pointRadius: 3.5 }),
  { type: 'bar', label: 'Series3', data: wtiRs3, backgroundColor: '#a5a5a5', barPercentage: 0.5, categoryPercentage: 1, yAxisID: 'y', order: 1 }
], { x: xax(m31, 50, 45, 2, 10, false), y: yax('right', 0.3, 0.52, 0.01, 3, 43, false, 10.5) }, 14, 19, false)

// ---------- row 6 ----------
titleBar(3278, 19, [[527, 'Mt. Belvieu LST Propane 6 month Look Back']])
const lb = (label, data, color, w, dash) => ({ type: 'line', label: label, data: data, borderColor: color, backgroundColor: color, borderWidth: w, borderDash: dash || [], pointRadius: 0, tension: 0, fill: false, yAxisID: 'y' })
const bigX = xax(lookDates, 62, 55, 5, 11, false)
bigX.offset = false
bigX.grid.tickLength = 3
chart(panel(0, 3297, 1053, 442), lookDates, [
  lb('2nd Mo', lb2ndMo, '#1f3864', 3.5),
  lb('Q323', lbQ323, '#2f5597', 2.5),
  lb('Winter 23-24', lbW2324, '#2f5597', 2, [4, 3]),
  lb('CAL23', lbCal23, '#8faadc', 2.5),
  lb('CAL24', lbCal24, '#b4c7e7', 2.5),
  lb('Winter 24-25', lbW2425, '#8faadc', 2, [7, 4]),
  lb('CAL25', lbCal25, '#d6e0f0', 2.5)
], { x: bigX, y: yax('right', 0.5, 1.0, 0.05, 5, 58, true, 11) }, 14, 52, false)

// ---------- legends ----------
curveLegend([122, 246, 370], [1476, 1505], ['Volume', 'Curve', 'Curve-1M', 'Curve-1W', 'Curve -1D', 'Curve-2W'], 11)
curveLegend([715, 817, 919], [1493, 1516], ['Volume', 'Curve', 'Curve-1M', 'Curve 1-D', 'Curve-1W', 'Curve-2W'], 11)
curveLegend([168, 277, 387], [1875, 1896], ['Volume', 'Curve-1M', 'CurveE', 'Curve-1W', 'Curve 1-D', 'Curve-2W'], 11)
curveLegend([809, 916], [1864, 1881, 1898], ['Volume', 'Curve', 'Curve-1M', 'Curve -1w', 'Curve 1-D', 'Curve-2W'], 11)
curveLegend([291, 381], [2220, 2237, 2253], ['Volume', 'Curve', 'Curve-1M', 'Curve-1W', 'Curve 1-D', 'Curve-2W'], 11)
curveLegend([820, 923], [2222, 2234, 2246], ['Volume', 'Curve', 'Curve-1M', 'Curve-1W', 'Curve 1-D', 'Curve-2W'], 10)
leg(189, 2601, 'line', '#4472c4', 'LST', { sw: 29, mk: 'd' })
leg(283, 2601, 'line', '#ed7d31', 'CWY', { sw: 29 })
leg(664, 2599, 'line', '#4472c4', 'LST', { sw: 30, mk: 'd' })
leg(782, 2599, 'line', '#ed7d31', 'EPC', { sw: 30 })
leg(904, 2599, 'dot', '#5b9b3a', 'EPC/LST 1-wk', { sw: 14 })
leg(673, 2622, 'dot', '#ff0000', 'EPC/LST 2-wk', { sw: 14 })
leg(790, 2622, 'dot', '#44546a', 'EPC/LST 1-d', { sw: 14 })
leg(82, 2957, 'box', '#deebf7', 'Series3', { sw: 25 })
leg(158, 2957, 'line', '#7030a0', '1M %', { sw: 27, mk: 'c' })
leg(229, 2957, 'line', '#ffc000', '1 W %', { sw: 27, mk: 'c' })
leg(301, 2957, 'line', '#00b0f0', '1D %', { sw: 27, mk: 'c' })
leg(370, 2957, 'line', '#ff0000', '2W %', { sw: 27, mk: 'c' })
leg(622, 2957, 'fill', '#a5a5a5', 'Series3', { sw: 24 })
leg(698, 2957, 'line', '#ed7d31', '1M %', { sw: 27, mk: 'c', mf: '#7030a0', mb: '#7030a0' })
leg(768, 2957, 'line', '#ffc000', '1 W %', { sw: 27, mk: 'c' })
leg(841, 2957, 'line', '#00b0f0', '1D %', { sw: 27, mk: 'c' })
leg(907, 2957, 'line', '#ff0000', '2W %', { sw: 27, mk: 'c' })
leg(114, 3338, 'line', '#1f3864', '2nd Mo', { sw: 35, lw: 4, fs: 12 })
leg(218, 3338, 'line', '#2f5597', 'Q323', { sw: 35, fs: 12 })
leg(312, 3338, 'line', '#8faadc', 'CAL23', { sw: 35, fs: 12 })
leg(410, 3338, 'line', '#b4c7e7', 'CAL24', { sw: 35, fs: 12 })
leg(508, 3338, 'line', '#d6e0f0', 'CAL25', { sw: 35, fs: 12 })
leg(604, 3338, 'dashed', '#2f5597', 'Winter 23-24', { sw: 35, fs: 12 })
leg(737, 3338, 'dashed', '#8faadc', 'Winter 24-25', { sw: 35, fs: 12 })
</script>
</body>
</html>
